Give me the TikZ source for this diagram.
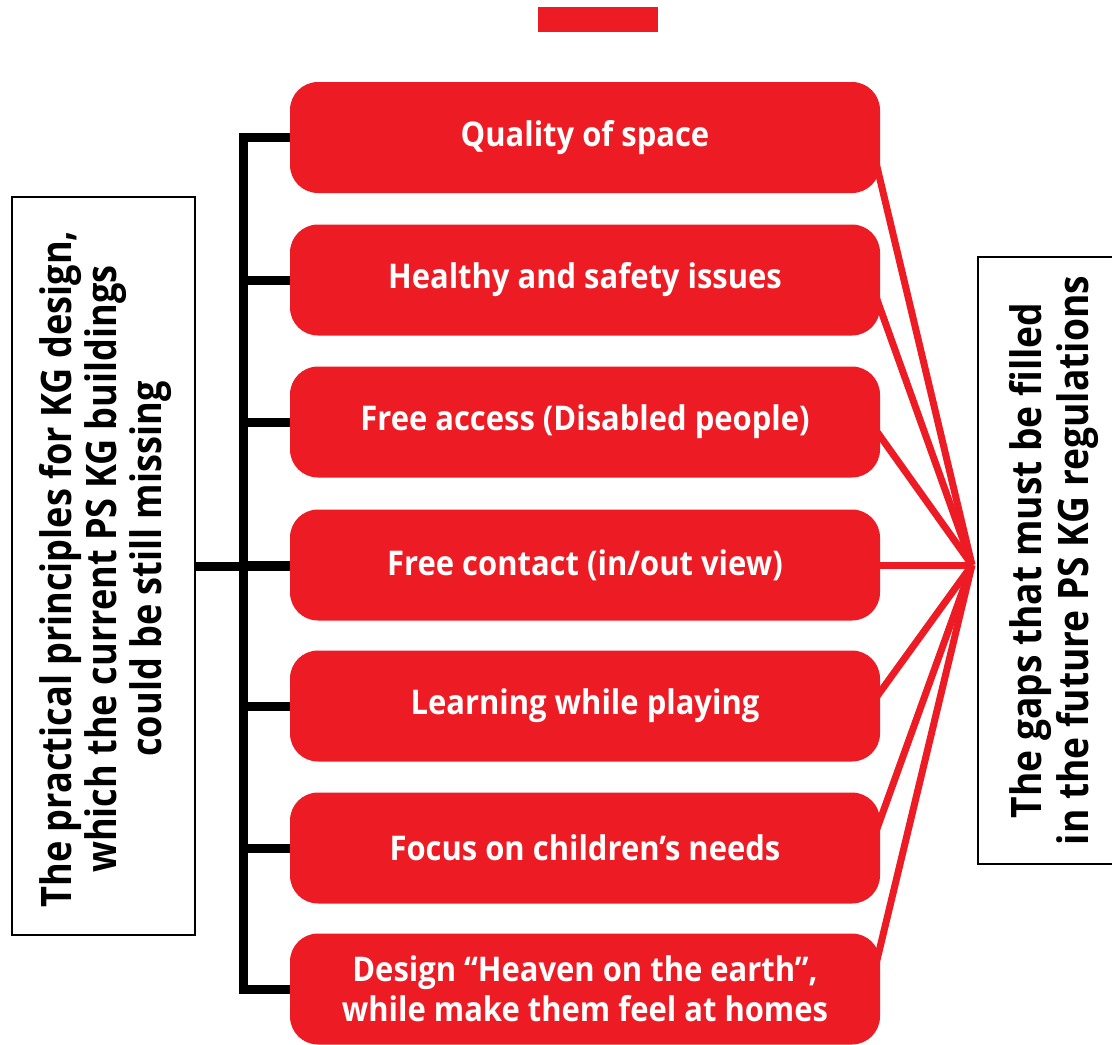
\documentclass[tikz,border=0pt]{standalone}
\usepackage{fontspec}
\setmainfont{Open Sans}
\newfontfamily\boxfont{Open Sans}[FakeStretch=0.91]
\newfontfamily\sidefont{Open Sans}[FakeStretch=0.86]
\newfontfamily\rightfont{Open Sans}[FakeStretch=0.885]
\definecolor{kgred}{RGB}{237,28,36}
\begin{document}
\begin{tikzpicture}[x=1pt,y=-1pt,
  redbox/.style={fill=kgred, rounded corners=28pt, minimum width=590pt, minimum height=111pt, inner sep=0pt,
    text=white, align=center, font=\boxfont\bfseries\fontsize{34}{40}\selectfont},
  sidebox/.style={draw=black, line width=2.5pt, fill=white, inner sep=0pt},
  sidetext/.style={rotate=90, align=center, text=black},
  bracket/.style={draw=black, line width=9pt},
  redline/.style={draw=kgred, line width=7pt}]
\clip (0,0) rectangle (1112,1045);
\useasboundingbox (0,0) rectangle (1112,1045);
\node[fill=kgred, minimum width=120pt, minimum height=25pt, inner sep=0pt] (topbar) at (598,19.5) {};
% side boxes
\node[sidebox, minimum width=183pt, minimum height=738pt] (L) at (103.5,566) {};
\node[sidetext, font=\sidefont\bfseries\fontsize{42}{45}\selectfont] (Lt) at ([xshift=2pt,yshift=-3pt]L.center) {The practical principles for KG design,\\which the current PS KG buildings\\could be still missing};
\node[sidebox, minimum width=150pt, minimum height=607pt] (R) at (1053,560.5) {};
\node[sidetext, font=\rightfont\bfseries\fontsize{42}{47}\selectfont] (Rt) at ([xshift=1pt]R.center) {The gaps that must be filled\\in the future PS KG regulations};
\coordinate (conv) at (972,565);
% red boxes positions
\path (585,137.5) coordinate (p1) (585,280) coordinate (p2) (585,422) coordinate (p3)
      (585,565) coordinate (p4) (585,706) coordinate (p5) (585,848) coordinate (p6) (585,989) coordinate (p7);
% red lines (behind boxes)
\foreach \i in {1,...,7} {\draw[redline] (p\i -| 870,0) -- (conv);}
\node[redbox] (b1) at (p1) {Quality of space};
\node[redbox] (b2) at (p2) {Healthy and safety issues};
\node[redbox] (b3) at (p3) {Free access (Disabled people)};
\node[redbox] (b4) at (p4) {Free contact (in/out view)};
\node[redbox] (b5) at (p5) {Learning while playing};
\node[redbox] (b6) at (p6) {Focus on children’s needs};
\node[redbox] (b7) at (p7) {Design “Heaven on the earth”,\\while make them feel at homes};
% bracket
\coordinate (bx) at (243,0);
\draw[bracket] (b1.west) -- (b1.west -| bx) -- (b7.west -| bx) -- (b7.west);
\foreach \i in {2,...,6} {\draw[bracket] (b\i.west -| bx) -- (b\i.west);}
\draw[bracket] (L.east) -- (L.east -| b4.west);
\end{tikzpicture}
\end{document}
